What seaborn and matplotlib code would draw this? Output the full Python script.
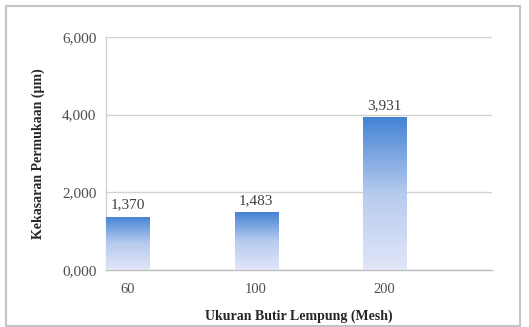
import numpy as np
import matplotlib
matplotlib.use("Agg")
import matplotlib.pyplot as plt
from matplotlib.colors import LinearSegmentedColormap
from matplotlib.patches import Rectangle
from matplotlib.ticker import FixedLocator, MultipleLocator
import seaborn as sns

# Data
mesh_sizes = ["60", "100", "200"]
roughness = [1.370, 1.483, 3.931]
y_ticks = [0, 2, 4, 6]

sns.set_theme(style="white")
plt.rcParams["font.family"] = ["Liberation Serif", "DejaVu Serif"]

fig = plt.figure(figsize=(5.29, 3.27), dpi=100)
ax = fig.add_axes([0.2004, 0.1743, 0.7296, 0.7126])

sns.barplot(x=mesh_sizes, y=roughness, width=0.335, color="#4a86d2",
            ax=ax, zorder=3)

# Vertical gradient fill for each bar
cmap = LinearSegmentedColormap.from_list(
    "bar_grad", ["#e2e6f8", "#b6cbee", "#4483d4"])
grad = np.linspace(0, 1, 256).reshape(-1, 1)
for patch in ax.patches:
    x0, y0 = patch.get_x(), patch.get_y()
    w, h = patch.get_width(), patch.get_height()
    patch.set_facecolor("none")
    patch.set_edgecolor("none")
    im = ax.imshow(grad, cmap=cmap, origin="lower", aspect="auto",
                   extent=[x0, x0 + w, y0, y0 + h], zorder=3)
    im.set_clip_path(patch)

ax.set_xlim(-0.1675, 2.836)
ax.set_ylim(0, 6)
ax.yaxis.set_major_locator(FixedLocator(y_ticks))
ax.set_yticklabels([f"{v:.3f}".replace(".", ",") for v in y_ticks])

# Value labels
for i, v in enumerate(roughness):
    ax.annotate(f"{v:.3f}".replace(".", ","), (i, v), xytext=(0, 4),
                textcoords="offset points", ha="center", va="bottom",
                fontsize=11, color="#404040", zorder=4)

ax.grid(axis="y", color="#d2d2d2", linewidth=1.0, zorder=0)
ax.grid(axis="x", visible=False)
for side in ["top", "right"]:
    ax.spines[side].set_visible(False)
ax.spines["left"].set_color("#d0d0d0")
ax.spines["bottom"].set_color("#bdbdbd")
ax.spines["left"].set_linewidth(1.0)
ax.spines["bottom"].set_linewidth(1.0)

ax.tick_params(axis="both", which="major", length=0, labelcolor="#4d4d4d")
ax.tick_params(axis="y", pad=7, labelsize=11)
ax.tick_params(axis="x", pad=9, labelsize=10.5)
ax.xaxis.set_minor_locator(MultipleLocator(1 / 6))
ax.yaxis.set_minor_locator(MultipleLocator(0.4))
ax.tick_params(axis="both", which="minor", length=3, width=0.8,
               color="#dcdcdc", direction="in")

ax.set_xlabel("Ukuran Butir Lempung (Mesh)", fontsize=10,
              fontweight="bold", color="#262626", labelpad=10)
ax.set_ylabel("Kekasaran Permukaan (µm)", fontsize=10,
              fontweight="bold", color="#262626", labelpad=12)

# Outer frame around the chart
fig.patches.append(Rectangle((6 / 529, 1 / 327), 514 / 529, 320 / 327,
                             transform=fig.transFigure, fill=False,
                             edgecolor="#c4c4c4", linewidth=1.5))

fig.savefig("out.png", dpi=100)
